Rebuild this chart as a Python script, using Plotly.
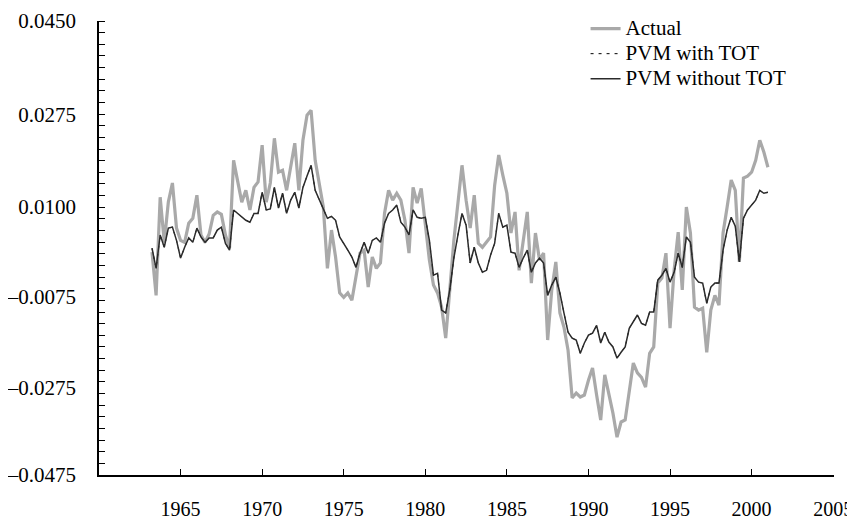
import plotly.graph_objects as go

# Quarterly observations, 1963Q2 .. 2001Q1
start_year = 1963.25
n_obs = 152
quarters = [start_year + 0.25 * k for k in range(n_obs)]

actual = [
    -0.0021, -0.0109, 0.0091, -0.0001, 0.0081, 0.0120, 0.0028, 0.0003, -0.0001, 0.0038,
    0.0048, 0.0095, 0.0014, -0.0001, 0.0016, 0.0054, 0.0061, 0.0056, 0.0014, -0.0013,
    0.0166, 0.0126, 0.0081, 0.0105, 0.0065, 0.0111, 0.0122, 0.0197, 0.0081, 0.0120,
    0.0211, 0.0142, 0.0146, 0.0105, 0.0152, 0.0201, 0.0105, 0.0207, 0.0258, 0.0268,
    0.0166, 0.0115, 0.0071, -0.0054, 0.0024, -0.0031, -0.0104, -0.0113, -0.0104, -0.0119,
    -0.0072, -0.0023, -0.0017, -0.0092, -0.0031, -0.0054, -0.0043, 0.0058, 0.0105, 0.0085,
    0.0099, 0.0085, 0.0044, -0.0023, 0.0111, 0.0079, 0.0109, 0.0030, -0.0037, -0.0088,
    -0.0104, -0.0133, -0.0196, -0.0098, 0.0003, 0.0079, 0.0156, 0.0085, 0.0028, 0.0095,
    -0.0003, -0.0011, -0.0001, 0.0010, 0.0115, 0.0177, 0.0136, 0.0099, 0.0018, 0.0061,
    -0.0058, 0.0003, 0.0061, -0.0084, 0.0018, -0.0037, -0.0023, -0.0200, -0.0098, -0.0041,
    -0.0145, -0.0174, -0.0221, -0.0318, -0.0308, -0.0316, -0.0312, -0.0282, -0.0257, -0.0312,
    -0.0363, -0.0271, -0.0308, -0.0349, -0.0398, -0.0367, -0.0363, -0.0302, -0.0247, -0.0267,
    -0.0276, -0.0296, -0.0227, -0.0214, -0.0084, -0.0074, -0.0023, -0.0176, -0.0058, 0.0020,
    -0.0098, 0.0071, 0.0018, -0.0133, -0.0139, -0.0135, -0.0225, -0.0139, -0.0109, -0.0129,
    0.0018, 0.0071, 0.0126, 0.0105, -0.0041, 0.0130, 0.0134, 0.0142, 0.0166, 0.0207,
    0.0183, 0.0152,
]

pvm_without_tot = [
    -0.0013, -0.0054, 0.0014, -0.0011, 0.0028, 0.0030, 0.0003, -0.0033, -0.0011, 0.0008,
    -0.0001, 0.0028, 0.0010, -0.0001, 0.0008, 0.0008, 0.0024, 0.0030, -0.0003, -0.0017,
    0.0065, 0.0058, 0.0050, 0.0044, 0.0040, 0.0058, 0.0058, 0.0101, 0.0065, 0.0067,
    0.0111, 0.0069, 0.0099, 0.0058, 0.0085, 0.0101, 0.0069, 0.0111, 0.0134, 0.0156,
    0.0105, 0.0085, 0.0069, 0.0048, 0.0052, 0.0044, 0.0010, -0.0005, -0.0017, -0.0031,
    -0.0052, -0.0023, -0.0001, -0.0023, 0.0003, 0.0008, -0.0001, 0.0038, 0.0058, 0.0065,
    0.0075, 0.0040, 0.0030, 0.0014, 0.0065, 0.0050, 0.0048, 0.0050, 0.0003, -0.0068,
    -0.0064, -0.0139, -0.0145, -0.0098, -0.0033, 0.0014, 0.0058, 0.0034, -0.0043, -0.0011,
    -0.0043, -0.0062, -0.0058, -0.0027, -0.0003, 0.0058, 0.0030, 0.0034, -0.0021, -0.0023,
    -0.0052, -0.0033, -0.0017, -0.0062, -0.0043, -0.0033, -0.0043, -0.0109, -0.0088, -0.0072,
    -0.0104, -0.0145, -0.0184, -0.0196, -0.0200, -0.0227, -0.0206, -0.0190, -0.0186, -0.0170,
    -0.0206, -0.0184, -0.0204, -0.0214, -0.0237, -0.0225, -0.0214, -0.0176, -0.0163, -0.0149,
    -0.0166, -0.0170, -0.0143, -0.0143, -0.0078, -0.0068, -0.0054, -0.0082, -0.0062, -0.0023,
    -0.0052, 0.0010, -0.0001, -0.0072, -0.0082, -0.0084, -0.0125, -0.0092, -0.0084, -0.0084,
    -0.0017, 0.0024, 0.0050, 0.0032, -0.0041, 0.0048, 0.0065, 0.0075, 0.0085, 0.0105,
    0.0099, 0.0101,
]

pvm_with_tot = [
    -0.0013, -0.0054, 0.0014, -0.0011, 0.0028, 0.0030, 0.0003, -0.0033, -0.0011, 0.0008,
    -0.0001, 0.0028, 0.0010, -0.0001, 0.0008, 0.0008, 0.0024, 0.0030, -0.0003, -0.0017,
    0.0065, 0.0058, 0.0050, 0.0044, 0.0040, 0.0058, 0.0058, 0.0101, 0.0065, 0.0067,
    0.0111, 0.0069, 0.0099, 0.0058, 0.0085, 0.0101, 0.0069, 0.0111, 0.0134, 0.0156,
    0.0105, 0.0085, 0.0069, 0.0048, 0.0052, 0.0044, 0.0010, -0.0005, -0.0017, -0.0031,
    -0.0052, -0.0023, -0.0001, -0.0023, 0.0003, 0.0008, -0.0001, 0.0038, 0.0058, 0.0065,
    0.0075, 0.0040, 0.0030, 0.0014, 0.0065, 0.0050, 0.0048, 0.0050, 0.0003, -0.0068,
    -0.0064, -0.0139, -0.0145, -0.0098, -0.0033, 0.0014, 0.0058, 0.0034, -0.0043, -0.0011,
    -0.0043, -0.0062, -0.0058, -0.0027, -0.0003, 0.0058, 0.0030, 0.0034, -0.0021, -0.0023,
    -0.0052, -0.0033, -0.0017, -0.0062, -0.0043, -0.0033, -0.0043, -0.0109, -0.0088, -0.0072,
    -0.0104, -0.0145, -0.0184, -0.0196, -0.0200, -0.0227, -0.0206, -0.0190, -0.0186, -0.0170,
    -0.0206, -0.0184, -0.0204, -0.0214, -0.0237, -0.0225, -0.0214, -0.0176, -0.0163, -0.0149,
    -0.0166, -0.0170, -0.0143, -0.0143, -0.0078, -0.0068, -0.0054, -0.0082, -0.0062, -0.0023,
    -0.0052, 0.0010, -0.0001, -0.0072, -0.0082, -0.0084, -0.0125, -0.0092, -0.0084, -0.0084,
    -0.0017, 0.0024, 0.0050, 0.0032, -0.0041, 0.0048, 0.0065, 0.0075, 0.0085, 0.0105,
    0.0099, 0.0101,
]

series_names = ["Actual", "PVM with TOT", "PVM without TOT"]

x_tick_years = [1965, 1970, 1975, 1980, 1985, 1990, 1995, 2000, 2005]
y_tick_positions = [0.045, 0.0259, 0.0071, -0.0112, -0.0297, -0.0475]
y_tick_labels = ["0.0450", "0.0275", "0.0100", "\u20130.0075", "\u20130.0275", "\u20130.0475"]

FONT = "Liberation Serif"


def legend_label(name):
    return '<span style="font-size:21px">' + name + "</span>"


fig = go.Figure()
fig.add_trace(go.Scatter(
    x=quarters, y=actual, mode="lines", name=legend_label(series_names[0]),
    line=dict(color="#a9a9a9", width=3.2),
))
fig.add_trace(go.Scatter(
    x=quarters, y=pvm_with_tot, mode="lines", name=legend_label(series_names[1]),
    line=dict(color="#000000", width=1, dash="3px,5px"),
))
fig.add_trace(go.Scatter(
    x=quarters, y=pvm_without_tot, mode="lines", name=legend_label(series_names[2]),
    line=dict(color="#2b2b2b", width=1.5),
))

fig.update_layout(
    width=855, height=526,
    margin=dict(l=91, r=29, t=13, b=59, autoexpand=False),
    paper_bgcolor="white", plot_bgcolor="white",
    font=dict(family=FONT, size=21, color="black"),
    showlegend=True,
    legend=dict(
        x=0.662, y=1.022, xanchor="left", yanchor="top",
        bgcolor="rgba(0,0,0,0)", font=dict(family=FONT, size=17),
        tracegroupgap=0,
    ),
)

fig.update_xaxes(
    range=[1960, 2005.05],
    tickmode="array", tickvals=x_tick_years, ticktext=[str(v) for v in x_tick_years],
    ticks="inside", ticklen=6, tickwidth=1.3, tickcolor="black",
    showline=True, linecolor="black", linewidth=1.6,
    showgrid=False, zeroline=False, automargin=False,
    ticklabelstandoff=15,
    tickfont=dict(family=FONT, size=20),
)

fig.update_yaxes(
    range=[-0.0475, 0.045],
    tickmode="array", tickvals=y_tick_positions, ticktext=y_tick_labels,
    ticks="", showline=True, linecolor="black", linewidth=1.6,
    showgrid=False, zeroline=False, automargin=False,
    ticklabelstandoff=17,
    tickfont=dict(family=FONT, size=21),
    minor=dict(tickmode="linear", tick0=-0.0475, dtick=0.0925 / 39 - 1e-10,
               ticks="inside", ticklen=6, tickwidth=1.3, tickcolor="black",
               showgrid=False),
)

fig.write_html("out.html")
